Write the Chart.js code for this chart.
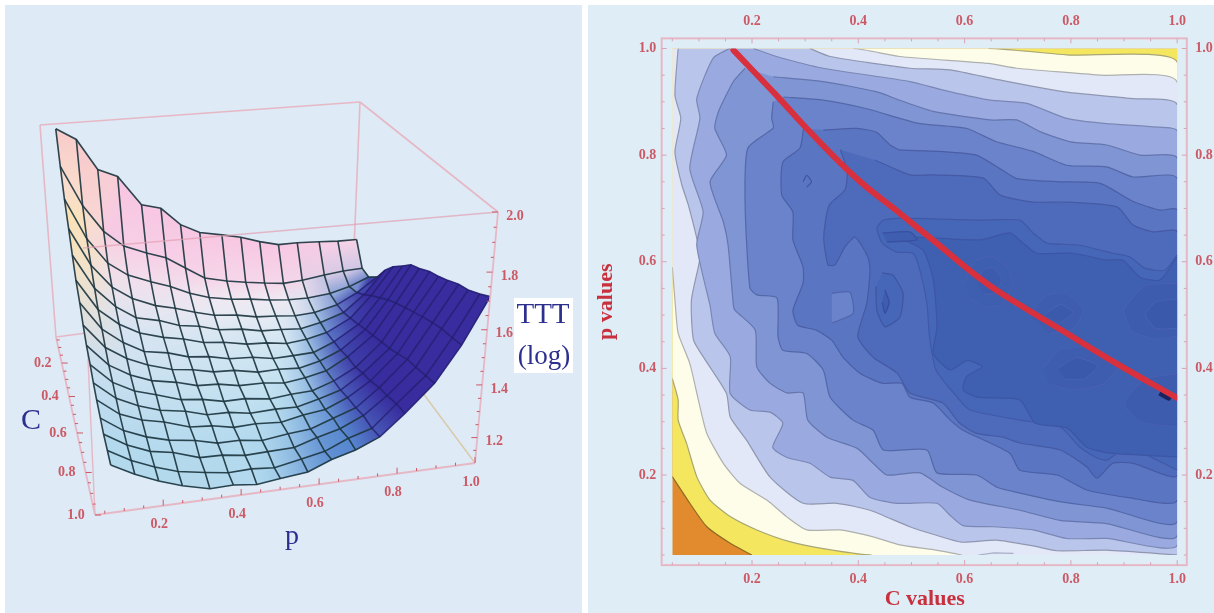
<!DOCTYPE html>
<html>
<head>
<meta charset="utf-8">
<title>TTT surface and contour</title>
<script src="https://cdn.jsdelivr.net/npm/chart.js@4/dist/chart.umd.min.js"></script>
<style>
  html, body { margin: 0; padding: 0; background: #fff; overflow: hidden; }
  .panel { position: absolute; top: 5px; height: 608px; background: #deeaf5; }
  #leftPanel { left: 5px; width: 577px; }
  #rightPanel { left: 588px; width: 626px; background: #dfedf6; }
  canvas { position: absolute; top: 0; }
  #surfaceChart { left: 0; }
  #contourChart { left: 588px; }
</style>
</head>
<body>
<div class="panel" id="leftPanel"></div>
<div class="panel" id="rightPanel"></div>
<canvas id="surfaceChart" width="582" height="613"></canvas>
<canvas id="contourChart" width="626" height="613"></canvas>
<script>
// SURFACE DATA - log TTT
const cValues = [0.05, 0.11, 0.17, 0.24, 0.30, 0.36, 0.43, 0.49, 0.55, 0.62, 0.68, 0.74, 0.81, 0.87, 0.94, 1.0];
const pValues = [0.07, 0.13, 0.19, 0.25, 0.32, 0.38, 0.44, 0.50, 0.57, 0.63, 0.69, 0.75, 0.81, 0.88, 0.94, 1.0];
const tttByC = [
  [1.989, 1.942, 1.816, 1.781, 1.655, 1.632, 1.553, 1.510, 1.489, 1.469, 1.440, 1.417, 1.416, 1.409, 1.402, 1.400],
  [1.868, 1.705, 1.591, 1.520, 1.480, 1.450, 1.396, 1.341, 1.315, 1.299, 1.285, 1.273, 1.277, 1.289, 1.297, 1.300],
  [1.767, 1.600, 1.490, 1.430, 1.390, 1.360, 1.320, 1.290, 1.270, 1.260, 1.245, 1.235, 1.232, 1.240, 1.262, 1.296],
  [1.685, 1.530, 1.430, 1.372, 1.330, 1.308, 1.280, 1.256, 1.244, 1.225, 1.218, 1.208, 1.212, 1.235, 1.280, 1.341],
  [1.612, 1.470, 1.385, 1.328, 1.304, 1.272, 1.258, 1.232, 1.222, 1.203, 1.198, 1.190, 1.207, 1.240, 1.310, 1.409],
  [1.547, 1.420, 1.350, 1.303, 1.272, 1.254, 1.228, 1.218, 1.197, 1.191, 1.177, 1.184, 1.203, 1.255, 1.345, 1.461],
  [1.500, 1.385, 1.320, 1.272, 1.254, 1.226, 1.216, 1.196, 1.189, 1.172, 1.173, 1.176, 1.212, 1.275, 1.380, 1.506],
  [1.449, 1.350, 1.295, 1.258, 1.226, 1.214, 1.194, 1.189, 1.168, 1.169, 1.162, 1.182, 1.218, 1.295, 1.410, 1.546],
  [1.408, 1.320, 1.270, 1.236, 1.216, 1.191, 1.186, 1.168, 1.166, 1.154, 1.165, 1.183, 1.232, 1.310, 1.435, 1.566],
  [1.380, 1.300, 1.255, 1.229, 1.196, 1.186, 1.166, 1.166, 1.151, 1.159, 1.162, 1.192, 1.238, 1.330, 1.460, 1.594],
  [1.350, 1.280, 1.240, 1.211, 1.194, 1.168, 1.166, 1.151, 1.154, 1.151, 1.173, 1.198, 1.257, 1.345, 1.480, 1.610],
  [1.327, 1.262, 1.228, 1.209, 1.176, 1.169, 1.151, 1.154, 1.146, 1.164, 1.175, 1.212, 1.268, 1.365, 1.500, 1.629],
  [1.308, 1.250, 1.215, 1.191, 1.176, 1.154, 1.154, 1.141, 1.154, 1.161, 1.193, 1.223, 1.292, 1.390, 1.520, 1.654],
  [1.291, 1.240, 1.205, 1.189, 1.156, 1.154, 1.141, 1.144, 1.146, 1.174, 1.197, 1.237, 1.303, 1.400, 1.535, 1.667],
  [1.283, 1.235, 1.200, 1.171, 1.154, 1.141, 1.144, 1.136, 1.156, 1.174, 1.213, 1.240, 1.322, 1.415, 1.545, 1.692],
  [1.275, 1.230, 1.194, 1.165, 1.140, 1.142, 1.132, 1.143, 1.154, 1.189, 1.214, 1.252, 1.328, 1.427, 1.555, 1.716]
];
const surfaceCTicks = [0.2, 0.4, 0.6, 0.8, 1.0];
const surfacePTicks = [0.2, 0.4, 0.6, 0.8, 1.0];
const surfaceZTicks = [1.2, 1.4, 1.6, 1.8, 2.0];

// CONTOUR DATA - [C, p] outlines of each band, lightest first
const bandOrange = [[0.05, 0.05], [1, 0.05], [1, 1], [0.05, 1]];
const bandYellow = [[0.05, 0.197], [0.083, 0.147], [0.115, 0.103], [0.159, 0.072], [0.196, 0.052], [0.2, 0.05], [1, 0.05], [1, 1], [0.05, 1]];
const bandWhite = [[0.05, 0.381], [0.061, 0.341], [0.061, 0.303], [0.077, 0.259], [0.096, 0.197], [0.121, 0.153], [0.159, 0.122], [0.209, 0.097], [0.271, 0.075], [0.334, 0.062], [0.425, 0.05], [1, 0.05], [1, 0.974], [0.792, 0.988], [0.645, 1], [0.05, 1]];
const bandPale = [[0.05, 0.59], [0.055, 0.528], [0.061, 0.466], [0.083, 0.409], [0.099, 0.341], [0.115, 0.278], [0.146, 0.222], [0.178, 0.184], [0.228, 0.153], [0.265, 0.122], [0.303, 0.097], [0.365, 0.097], [0.428, 0.084], [0.478, 0.069], [0.541, 0.06], [0.585, 0.052], [0.595, 0.05], [1, 0.05], [1, 0.936], [0.855, 0.95], [0.698, 0.963], [0.645, 0.972], [0.478, 0.985], [0.391, 1], [0.05, 1]];
const bandBlue1 = [[0.061, 1], [0.055, 0.912], [0.066, 0.869], [0.055, 0.806], [0.068, 0.744], [0.08, 0.707], [0.099, 0.631], [0.102, 0.606], [0.086, 0.528], [0.09, 0.453], [0.112, 0.416], [0.152, 0.353], [0.159, 0.309], [0.19, 0.265], [0.234, 0.196], [0.296, 0.147], [0.36, 0.147], [0.422, 0.134], [0.497, 0.103], [0.547, 0.087], [0.595, 0.074], [0.66, 0.078], [0.729, 0.067], [0.773, 0.058], [0.867, 0.059], [1, 0.05], [1, 0.894], [0.917, 0.906], [0.792, 0.918], [0.666, 0.941], [0.572, 0.96], [0.497, 0.963], [0.347, 0.985], [0.309, 1]];
const bandBlue2 = [[0.158, 1], [0.127, 0.982], [0.096, 0.906], [0.102, 0.869], [0.083, 0.775], [0.108, 0.694], [0.096, 0.631], [0.121, 0.518], [0.13, 0.466], [0.159, 0.422], [0.159, 0.353], [0.196, 0.322], [0.234, 0.318], [0.258, 0.297], [0.239, 0.252], [0.266, 0.233], [0.309, 0.222], [0.347, 0.196], [0.39, 0.19], [0.422, 0.158], [0.473, 0.147], [0.548, 0.147], [0.572, 0.125], [0.597, 0.105], [0.654, 0.103], [0.729, 0.097], [0.792, 0.081], [0.867, 0.081], [1, 0.069], [1, 0.845], [0.955, 0.853], [0.867, 0.859], [0.792, 0.869], [0.717, 0.897], [0.648, 0.903], [0.572, 0.919], [0.497, 0.938], [0.334, 0.963], [0.246, 0.985], [0.203, 1]];
const bandBlue3 = [[0.187, 0.963], [0.165, 0.938], [0.137, 0.882], [0.13, 0.85], [0.152, 0.8], [0.121, 0.75], [0.146, 0.675], [0.155, 0.631], [0.165, 0.518], [0.168, 0.509], [0.206, 0.472], [0.209, 0.403], [0.234, 0.372], [0.266, 0.354], [0.296, 0.354], [0.305, 0.303], [0.341, 0.271], [0.398, 0.25], [0.428, 0.222], [0.454, 0.2], [0.516, 0.204], [0.559, 0.177], [0.61, 0.153], [0.704, 0.134], [0.779, 0.115], [0.867, 0.109], [1, 0.087], [1, 0.794], [0.93, 0.8], [0.867, 0.819], [0.799, 0.825], [0.742, 0.844], [0.698, 0.866], [0.648, 0.866], [0.541, 0.882], [0.478, 0.903], [0.434, 0.919], [0.334, 0.938], [0.24, 0.947]];
const bandBlue4 = [[0.24, 0.9], [0.237, 0.869], [0.24, 0.851], [0.192, 0.813], [0.187, 0.706], [0.196, 0.551], [0.209, 0.538], [0.247, 0.532], [0.249, 0.459], [0.258, 0.434], [0.303, 0.428], [0.334, 0.397], [0.347, 0.346], [0.39, 0.303], [0.428, 0.284], [0.447, 0.247], [0.529, 0.247], [0.548, 0.204], [0.623, 0.2], [0.661, 0.177], [0.704, 0.166], [0.779, 0.15], [0.867, 0.138], [1, 0.113], [1, 0.756], [0.917, 0.759], [0.867, 0.778], [0.792, 0.781], [0.729, 0.807], [0.66, 0.825], [0.604, 0.85], [0.516, 0.859], [0.478, 0.869], [0.416, 0.887], [0.334, 0.903], [0.259, 0.909]];
const bandBlue5 = [[0.297, 0.85], [0.29, 0.813], [0.258, 0.787], [0.256, 0.725], [0.277, 0.693], [0.277, 0.641], [0.296, 0.59], [0.296, 0.56], [0.277, 0.509], [0.286, 0.481], [0.32, 0.472], [0.35, 0.453], [0.371, 0.421], [0.403, 0.391], [0.446, 0.372], [0.482, 0.372], [0.497, 0.346], [0.541, 0.335], [0.573, 0.303], [0.597, 0.284], [0.685, 0.241], [0.704, 0.209], [0.774, 0.2], [0.83, 0.172], [0.906, 0.158], [1, 0.153], [1, 0.697], [0.967, 0.697], [0.917, 0.713], [0.855, 0.747], [0.779, 0.75], [0.698, 0.756], [0.666, 0.775], [0.622, 0.8], [0.554, 0.807], [0.478, 0.81], [0.46, 0.819], [0.434, 0.843], [0.397, 0.85], [0.334, 0.847]];
const bandBlue6 = [[0.366, 0.81], [0.379, 0.772], [0.375, 0.735], [0.345, 0.706], [0.335, 0.646], [0.343, 0.594], [0.356, 0.594], [0.375, 0.628], [0.394, 0.646], [0.418, 0.609], [0.422, 0.584], [0.416, 0.522], [0.399, 0.459], [0.428, 0.421], [0.473, 0.391], [0.497, 0.354], [0.559, 0.335], [0.591, 0.297], [0.623, 0.278], [0.672, 0.271], [0.704, 0.26], [0.78, 0.247], [0.83, 0.215], [0.849, 0.194], [0.879, 0.222], [0.917, 0.222], [1, 0.2], [1, 0.656], [0.955, 0.656], [0.917, 0.669], [0.887, 0.703], [0.793, 0.712], [0.729, 0.712], [0.667, 0.725], [0.635, 0.757], [0.541, 0.763], [0.497, 0.763], [0.431, 0.791]];
const bandBlue7 = [[1, 0.613], [0.977, 0.584], [0.939, 0.588], [0.911, 0.609], [0.879, 0.616], [0.817, 0.631], [0.755, 0.635], [0.729, 0.654], [0.704, 0.678], [0.629, 0.678], [0.482, 0.682], [0.447, 0.678], [0.435, 0.663], [0.445, 0.635], [0.473, 0.618], [0.503, 0.616], [0.516, 0.584], [0.529, 0.522], [0.534, 0.459], [0.546, 0.397], [0.586, 0.346], [0.61, 0.322], [0.704, 0.303], [0.78, 0.29], [0.817, 0.252], [0.849, 0.232], [0.868, 0.228], [0.906, 0.252], [1, 0.209]];
const bandBlue8 = [[1, 0.609], [0.968, 0.566], [0.93, 0.571], [0.898, 0.603], [0.868, 0.603], [0.804, 0.616], [0.736, 0.616], [0.71, 0.635], [0.685, 0.654], [0.629, 0.641], [0.478, 0.646], [0.522, 0.622], [0.541, 0.566], [0.548, 0.477], [0.541, 0.428], [0.573, 0.397], [0.605, 0.415], [0.633, 0.403], [0.604, 0.385], [0.597, 0.36], [0.623, 0.346], [0.704, 0.341], [0.733, 0.297], [0.793, 0.288], [0.83, 0.252], [0.874, 0.241], [1, 0.234]];
const islandLight = [[0.35, 0.541], [0.384, 0.543], [0.39, 0.503], [0.35, 0.485]];
const dotSmall = [[0.296, 0.75], [0.303, 0.762], [0.312, 0.75], [0.303, 0.74]];
const lensInner = [[0.446, 0.654], [0.497, 0.656], [0.51, 0.641], [0.454, 0.637]];
const ovalOuter = [[0.445, 0.579], [0.465, 0.575], [0.484, 0.541], [0.478, 0.496], [0.45, 0.478], [0.435, 0.509], [0.433, 0.553]];
const ovalInner = [[0.45, 0.547], [0.458, 0.524], [0.45, 0.503], [0.445, 0.524]];
const blobA1 = [[0.6, 0.56], [0.62, 0.6], [0.65, 0.61], [0.68, 0.59], [0.69, 0.56], [0.67, 0.52], [0.64, 0.515], [0.61, 0.53]];
const blobA2 = [[0.625, 0.56], [0.635, 0.585], [0.655, 0.588], [0.67, 0.565], [0.655, 0.54], [0.635, 0.54]];
const blobB1 = [[0.723, 0.5], [0.75, 0.535], [0.79, 0.541], [0.823, 0.51], [0.805, 0.475], [0.76, 0.466]];
const blobB2 = [[0.75, 0.5], [0.78, 0.52], [0.805, 0.505], [0.78, 0.485]];
const blobC1 = [[0.747, 0.4], [0.78, 0.435], [0.84, 0.44], [0.892, 0.41], [0.86, 0.37], [0.8, 0.36], [0.76, 0.37]];
const blobC2 = [[0.775, 0.4], [0.81, 0.42], [0.85, 0.405], [0.825, 0.38], [0.79, 0.38]];
const blobD1 = [[1, 0.56], [0.94, 0.555], [0.9, 0.51], [0.915, 0.47], [0.96, 0.455], [1, 0.46]];
const blobD2 = [[1, 0.53], [0.96, 0.525], [0.94, 0.5], [0.96, 0.475], [1, 0.475]];
const blobE1 = [[1, 0.39], [0.94, 0.38], [0.9, 0.335], [0.93, 0.3], [1, 0.29]];
const endSpot = [[0.97, 0.36], [0.99, 0.35], [0.985, 0.34], [0.965, 0.35]];
const strayContour = [[0.626, 0.05], [0.655, 0.054], [0.692, 0.053]];
const optimalLine = [[0.165, 0.997], [0.246, 0.912], [0.303, 0.85], [0.397, 0.756], [0.478, 0.691], [0.541, 0.64], [0.623, 0.573], [0.673, 0.538], [0.792, 0.466], [0.886, 0.409], [0.999, 0.345]];
const contourCTicks = [0.2, 0.4, 0.6, 0.8, 1.0];
const contourPTicks = [0.2, 0.4, 0.6, 0.8, 1.0];
const minorStep = 0.05;

// 3D view of the box, corners as they sit on the left panel
const viewFloor = { c0p0: [56, 337], c0p1: [352, 298], c1p0: [95, 515], c1p1: [475, 463] };
const viewTop = { c0p0: [40, 125], c0p1: [360, 102], c1p0: [83, 248], c1p1: [498, 212] };
const tickRed = '#cc5a66';
const boxPink = '#e6b8c6';
const labelNavy = '#2d2f8e';
const serif = '"Liberation Serif", "DejaVu Serif", serif';

function bilerp(corners, cf, pf, axis) {
  const back = corners.c0p0[axis] + (corners.c0p1[axis] - corners.c0p0[axis]) * pf;
  const front = corners.c1p0[axis] + (corners.c1p1[axis] - corners.c1p0[axis]) * pf;
  return back + (front - back) * cf;
}

function project(c, p, z) {
  const tc = (c - 0.03) / 0.97;
  const cf = tc * (0.8 + 0.2 * tc);
  const pf = (p - 0.025) / 0.975;
  const tz = (z - 1.1) / 0.9;
  const zf = tz * (0.9 + 0.1 * tz);
  const bx = bilerp(viewFloor, cf, pf, 0), by = bilerp(viewFloor, cf, pf, 1);
  const tx = bilerp(viewTop, cf, pf, 0), ty = bilerp(viewTop, cf, pf, 1);
  return { x: bx + (tx - bx) * zf, y: by + (ty - by) * zf };
}

function clamp01(v) { return Math.max(0, Math.min(1, v)); }
function mix(a, b, t) { return a.map((v, i) => v + (b[i] - v) * t); }
function css(rgb) { return `rgb(${rgb.map(v => Math.round(v)).join(',')})`; }

// shading goes by the slope of each face, roughly how the lit surface looks
function cellDarkness(r, c) {
  const z = tttByC;
  const dzdp = ((z[r][c + 1] + z[r + 1][c + 1]) - (z[r][c] + z[r + 1][c])) / 2 / (pValues[c + 1] - pValues[c]);
  return clamp01((dzdp - 0.05) / 1.0);
}

function cellRgb(r, c) {
  const z = tttByC;
  const dzdC = ((z[r + 1][c] + z[r + 1][c + 1]) - (z[r][c] + z[r][c + 1])) / 2 / (cValues[r + 1] - cValues[r]);
  const dzdp = ((z[r][c + 1] + z[r + 1][c + 1]) - (z[r][c] + z[r + 1][c])) / 2 / (pValues[c + 1] - pValues[c]);
  let col = mix([226, 244, 248], [176, 218, 238], clamp01(r / 12));
  col = mix(col, [250, 248, 248], clamp01(1 - r / 4) * 0.9);
  col = mix(col, [248, 198, 226], clamp01(-dzdC / 2.4));
  const warm = clamp01((-dzdp - 1.4) / 1.2);
  col = mix(col, r % 2 ? [252, 240, 200] : [248, 214, 160], warm);
  const dark = cellDarkness(r, c);
  if (dark < 0.5) return mix(col, [84, 132, 206], dark * 2);
  return mix([84, 132, 206], [56, 44, 158], Math.min(1, (dark - 0.5) * 2.4));
}

// colour at a mesh node: mean of the faces around it
function nodeRgb(r, c) {
  const around = [];
  for (const i of [r - 1, r]) {
    for (const j of [c - 1, c]) {
      if (i >= 0 && j >= 0 && i < cValues.length - 1 && j < pValues.length - 1) around.push(cellRgb(i, j));
    }
  }
  return [0, 1, 2].map(k => around.reduce((s, a) => s + a[k], 0) / around.length);
}

function colorGap(a, b) { return Math.abs(a[0] - b[0]) + Math.abs(a[1] - b[1]) + Math.abs(a[2] - b[2]); }

// fills closed outlines from the line's own points; dataset.shapeFill holds a colour or a function of the element
const shapeFillPlugin = {
  id: 'shapeFill',
  beforeDatasetDraw(chart, { meta, index }) {
    const ds = chart.data.datasets[index];
    if (!ds.shapeFill) return;
    const { ctx, chartArea: a } = chart;
    const pts = meta.data;
    ctx.save();
    ctx.beginPath();
    ctx.rect(a.left, a.top, a.right - a.left, a.bottom - a.top);
    ctx.clip();
    ctx.beginPath();
    ctx.moveTo(pts[0].x, pts[0].y);
    for (let i = 1; i < pts.length; i++) {
      const prev = pts[i - 1], cur = pts[i];
      if (ds.tension) ctx.bezierCurveTo(prev.cp2x, prev.cp2y, cur.cp1x, cur.cp1y, cur.x, cur.y);
      else ctx.lineTo(cur.x, cur.y);
    }
    ctx.closePath();
    const style = typeof ds.shapeFill === 'function' ? ds.shapeFill(ctx, meta) : ds.shapeFill;
    ctx.fillStyle = style;
    ctx.fill();
    if (ds.seam) {
      ctx.strokeStyle = style;
      ctx.lineWidth = 0.8;
      ctx.stroke();
    }
    ctx.restore();
  }
};

function surfaceDatasets() {
  const sets = [];
  const boxLine = (from, to, color, width) => ({
    data: [project(from[0], from[1], from[2]), project(to[0], to[1], to[2])],
    showLine: true, borderColor: color, borderWidth: width, pointRadius: 0, fill: false
  });
  const cA = 0.03, cB = 1, pA = 0.025, pB = 1, zA = 1.1, zB = 2;
  // box edges behind the surface
  sets.push(boxLine([cA, pA, zB], [cA, pB, zB], boxPink, 1.6));
  sets.push(boxLine([cA, pB, zB], [cB, pB, zB], boxPink, 1.6));
  sets.push(boxLine([cA, pA, zB], [cA, pA, zA], boxPink, 1.6));
  sets.push(boxLine([cA, pB, zB], [cA, pB, zA], boxPink, 1.6));
  sets.push(boxLine([cA, pA, zA], [cA, pB, zA], boxPink, 1.4));
  sets.push(boxLine([cA, pB, zA], [cB, pB, zA], '#d9c9a8', 1.4));
  sets.push(boxLine([cB, pA, zB], [cB, pA, zA], boxPink, 1.4));
  // faces, far ones first
  const cells = [];
  for (let r = 0; r < cValues.length - 1; r++) {
    for (let c = 0; c < pValues.length - 1; c++) cells.push({ r, c, depth: r - c * 0.35 });
  }
  cells.sort((a, b) => a.depth - b.depth);
  cells.forEach(({ r, c }) => {
    const corners = [[r, c], [r, c + 1], [r + 1, c + 1], [r + 1, c]];
    const nodes = corners.map(([i, j]) => nodeRgb(i, j));
    const cellFill = (ctx, meta) => {
      const pts = meta.data;
      const mid = (a, b) => [(pts[a].x + pts[b].x) / 2, (pts[a].y + pts[b].y) / 2];
      const midRgb = (a, b) => mix(nodes[a], nodes[b], 0.5);
      const across = colorGap(midRgb(0, 3), midRgb(1, 2)) >= colorGap(midRgb(0, 1), midRgb(3, 2));
      const [a0, a1, b0, b1] = across ? [0, 3, 1, 2] : [0, 1, 3, 2];
      const from = mid(a0, a1), to = mid(b0, b1);
      const grad = ctx.createLinearGradient(from[0], from[1], to[0], to[1]);
      grad.addColorStop(0, css(midRgb(a0, a1)));
      grad.addColorStop(1, css(midRgb(b0, b1)));
      return grad;
    };
    sets.push({
      data: corners.map(([i, j]) => project(cValues[i], pValues[j], tttByC[i][j])),
      showLine: true, fill: false, pointRadius: 0, borderColor: 'rgba(0,0,0,0)', borderWidth: 0.5,
      shapeFill: cellFill, seam: true
    });
  });
  // mesh, one line per C and one per p
  const meshColor = dark => (dark > 0.75 ? 'rgba(35,30,110,0.8)' : 'rgba(30,55,65,0.92)');
  cValues.forEach((cv, r) => {
    sets.push({
      data: pValues.map((pv, c) => project(cv, pv, tttByC[r][c])),
      showLine: true, fill: false, pointRadius: 0, borderWidth: 1.6, borderColor: '#1c3a44',
      segment: { borderColor: ctx => meshColor(cellDarkness(Math.min(r, cValues.length - 2), ctx.p0DataIndex)) }
    });
  });
  pValues.forEach((pv, c) => {
    sets.push({
      data: cValues.map((cv, r) => project(cv, pv, tttByC[r][c])),
      showLine: true, fill: false, pointRadius: 0, borderWidth: 1.6, borderColor: '#1c3a44',
      segment: { borderColor: ctx => meshColor(cellDarkness(ctx.p0DataIndex, Math.min(c, pValues.length - 2))) }
    });
  });
  // box edges in front of it
  sets.push(boxLine([cB, pA, zB], [cB, pB, zB], 'rgba(226,160,180,0.7)', 1.5));
  sets.push(boxLine([cB, pA, zA], [cB, pB, zA], boxPink, 1.8));
  sets.push(boxLine([cA, pA, zA], [cB, pA, zA], boxPink, 1.8));
  sets.push(boxLine([cB, pB, zB], [cB, pB, zA], boxPink, 1.8));
  return sets;
}

// ticks and labels on the box edges
const boxLabelsPlugin = {
  id: 'boxLabels',
  afterDraw(chart) {
    const { ctx, scales } = chart;
    const px = pt => [scales.x.getPixelForValue(pt.x), scales.y.getPixelForValue(pt.y)];
    ctx.save();
    ctx.strokeStyle = tickRed;
    ctx.lineWidth = 1;
    const tickAt = (pt, dx, dy) => {
      const [x, y] = px(pt);
      ctx.beginPath(); ctx.moveTo(x, y); ctx.lineTo(x + dx, y + dy); ctx.stroke();
    };
    for (let v = 0.05; v < 1.01; v += minorStep) {
      const major = Math.abs(v * 5 - Math.round(v * 5)) < 0.01;
      tickAt(project(v, 0.025, 1.1), major ? 6 : 3, 0);
      tickAt(project(1, v, 1.1), 0, major ? -6 : -3);
    }
    for (let v = 1.15; v < 2.01; v += minorStep) {
      const major = Math.abs(v * 5 - Math.round(v * 5)) < 0.01;
      tickAt(project(1, 1, v), major ? -6 : -3, 0);
    }
    ctx.fillStyle = tickRed;
    ctx.font = 'bold 14px ' + serif;
    ctx.textAlign = 'center';
    ctx.textBaseline = 'middle';
    surfaceCTicks.forEach(v => {
      const [x, y] = px(project(v, 0.025, 1.1));
      ctx.fillText(v.toFixed(1), x - 19, y);
    });
    surfacePTicks.forEach(v => {
      const [x, y] = px(project(1, v, 1.1));
      ctx.fillText(v.toFixed(1), x - 4, y + 19);
    });
    surfaceZTicks.forEach(v => {
      const [x, y] = px(project(1, 1, v));
      ctx.fillText(v.toFixed(1), x + 17, y + 4);
    });
    // axis names
    ctx.fillStyle = '#fff';
    ctx.fillRect(514, 298, 59, 75);
    ctx.fillStyle = labelNavy;
    ctx.font = '29px ' + serif;
    ctx.fillText('TTT', 543, 315);
    ctx.font = '27px ' + serif;
    ctx.fillText('(log)', 544, 357);
    ctx.font = '30px ' + serif;
    ctx.fillText('C', 31, 421);
    ctx.font = '28px ' + serif;
    ctx.fillText('p', 292, 537);
    ctx.restore();
  }
};

new Chart(document.getElementById('surfaceChart').getContext('2d'), {
  type: 'scatter',
  data: { datasets: surfaceDatasets().reverse() },
  options: {
    responsive: false,
    animation: false,
    events: [],
    layout: { padding: 0 },
    plugins: { legend: { display: false }, tooltip: { enabled: false }, title: { display: false } },
    scales: {
      x: { type: 'linear', min: 0, max: 582, display: false },
      y: { type: 'linear', min: 0, max: 613, reverse: true, display: false }
    }
  },
  plugins: [shapeFillPlugin, boxLabelsPlugin]
});

// CONTOUR PANEL
const onEdge = (a, b) =>
  (a.x === b.x && (a.x === 1 || a.x === 0.05)) || (a.y === b.y && (a.y === 1 || a.y === 0.05));

function band(outline, fillColor, lineColor, width) {
  return {
    data: outline.map(([x, y]) => ({ x, y })),
    showLine: true, fill: false, tension: 0.2, pointRadius: 0,
    shapeFill: fillColor, borderColor: lineColor, borderWidth: width === undefined ? 1.2 : width,
    segment: { borderColor: ctx => (onEdge(ctx.p0.parsed, ctx.p1.parsed) ? 'rgba(0,0,0,0)' : undefined) }
  };
}

const ringLine = 'rgba(72,98,176,0.9)';
const contourSets = [
  band(bandOrange, '#e18a2e', 'rgba(0,0,0,0)'),
  band(bandYellow, '#f4e65e', '#8d6b22'),
  band(bandWhite, '#fdfdea', '#a8a676'),
  band(bandPale, '#e2e8f8', '#aeb0ae'),
  band(bandBlue1, '#b9c5ea', '#8f97b0'),
  band(bandBlue2, '#9aaae0', '#7a87b4'),
  band(bandBlue3, '#7f95d4', '#6575ad'),
  band(bandBlue4, '#6a83ca', '#5468a8'),
  band(bandBlue5, '#5a75c1', '#4b5fa6'),
  band(bandBlue6, '#4e6bbb', '#465aa5'),
  band(bandBlue7, '#4666b7', '#4059a6'),
  band(bandBlue8, '#3f5fb1', '#3d56a4'),
  band(islandLight, '#6a83ca', '#5065ac'),
  band(dotSmall, '#5a75c1', '#42569f'),
  band(lensInner, '#3f5eb0', '#38509e'),
  band(ovalOuter, '#4666b7', '#3f559f'),
  band(ovalInner, '#3e5dae', '#374c9c'),
  band(blobA1, '#3e5eb0', ringLine),
  band(blobA2, '#3c5bad', ringLine),
  band(blobB1, '#3e5dae', ringLine),
  band(blobB2, '#3b5aac', ringLine),
  band(blobC1, '#3e5dae', ringLine),
  band(blobC2, '#3a59ab', ringLine),
  band(blobD1, '#3d5cae', ringLine),
  band(blobD2, '#3a59ab', ringLine),
  band(blobE1, '#3d5cae', ringLine),
  band(endSpot, '#16235f', 'rgba(22,35,95,0.6)'),
  { data: strayContour.map(([x, y]) => ({ x, y })), showLine: true, fill: false, pointRadius: 0, borderColor: '#a9b0c6', borderWidth: 1.2 },
  { data: optimalLine.map(([x, y]) => ({ x, y })), showLine: true, fill: false, pointRadius: 0, tension: 0.4,
    borderColor: '#d8303c', borderWidth: 6, borderCapStyle: 'round' }
];

// frame and inward ticks sit just outside the data rectangle
const frameTicksPlugin = {
  id: 'frameTicks',
  beforeDraw(chart) {
    const { ctx, scales: { x, y } } = chart;
    const left = x.getPixelForValue(0.03), right = x.getPixelForValue(1.018);
    const top = y.getPixelForValue(1.019), bottom = y.getPixelForValue(0.031);
    ctx.save();
    ctx.strokeStyle = boxPink;
    ctx.lineWidth = 2;
    ctx.strokeRect(left, top, right - left, bottom - top);
    ctx.lineWidth = 1;
    ctx.strokeStyle = '#d9a3b4';
    for (let v = 0.05; v < 1.01; v += minorStep) {
      const len = Math.abs(v * 5 - Math.round(v * 5)) < 0.01 ? 5 : 3;
      const xp = x.getPixelForValue(v), yp = y.getPixelForValue(v);
      ctx.beginPath();
      ctx.moveTo(xp, top); ctx.lineTo(xp, top + len);
      ctx.moveTo(xp, bottom); ctx.lineTo(xp, bottom - len);
      ctx.moveTo(left, yp); ctx.lineTo(left + len, yp);
      ctx.moveTo(right, yp); ctx.lineTo(right - len, yp);
      ctx.stroke();
    }
    ctx.restore();
  }
};

function axisFor(position, tickValues, size, padding, titleText, titlePadding) {
  const upright = position === 'left' || position === 'right';
  const axis = {
    type: 'linear', position, min: 0.05, max: 1,
    grid: { display: false, drawTicks: false },
    border: { display: false },
    afterBuildTicks: s => { s.ticks = tickValues.map(value => ({ value })); },
    afterFit: s => { if (upright) s.width = size; else s.height = size; },
    ticks: {
      autoSkip: false, maxRotation: 0, padding, color: tickRed,
      font: { family: serif, size: 14, weight: 'bold' },
      callback: v => v.toFixed(1)
    }
  };
  if (titleText) {
    axis.title = {
      display: true, text: titleText, color: '#c8303e', padding: titlePadding,
      font: { family: serif, size: 22, weight: 'bold' }
    };
  }
  return axis;
}

new Chart(document.getElementById('contourChart').getContext('2d'), {
  type: 'scatter',
  data: { datasets: contourSets.slice().reverse() },
  options: {
    responsive: false,
    animation: false,
    events: [],
    layout: { padding: 0 },
    plugins: { legend: { display: false }, tooltip: { enabled: false }, title: { display: false } },
    scales: {
      x: axisFor('bottom', contourCTicks, 58, 16, 'C values', { top: 0, bottom: 0 }),
      y: axisFor('left', contourPTicks, 84.3, 16, 'p values', { top: 5, bottom: 0 }),
      x2: axisFor('top', contourCTicks, 48.5, 19),
      y2: axisFor('right', contourPTicks, 36.8, 18)
    }
  },
  plugins: [shapeFillPlugin, frameTicksPlugin]
});
</script>
</body>
</html>
